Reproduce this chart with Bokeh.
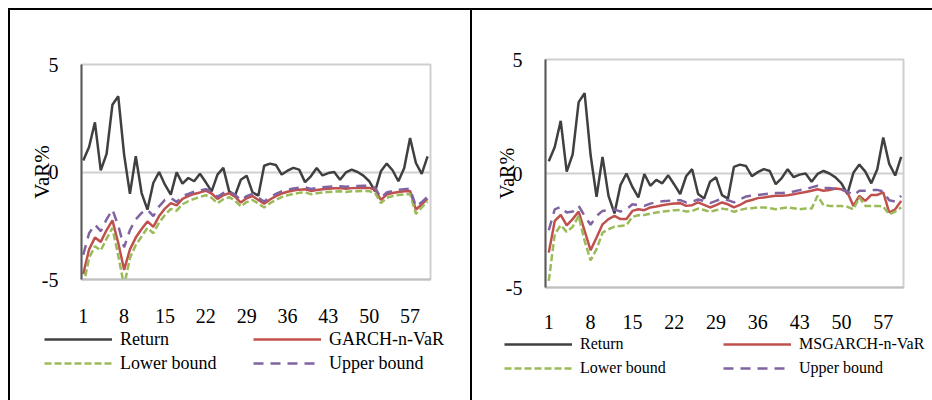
from bokeh.plotting import figure
from bokeh.layouts import row, column
from bokeh.models import (Range1d, FixedTicker, Legend, LegendItem, Div, Spacer)
from bokeh.embed import file_html
from bokeh.resources import INLINE

# observation index 1..60
days = list(range(1, 61))
x_ticks = [1, 8, 15, 22, 29, 36, 43, 50, 57]
y_ticks = [-5, 0, 5]
y_tick_labels = {-5: "-5", 0: "0", 5: "5"}

returns = [0.54, 1.16, 2.31, 0.08, 0.84, 3.13, 3.52, 0.81, -1.02, 0.73,
           -0.98, -1.75, -0.51, 0.0, -0.59, -1.05, -0.02, -0.54, -0.28, -0.43,
           -0.08, -0.48, -0.90, -0.12, 0.19, -0.90, -1.10, -0.36, -0.17, -0.95,
           -1.10, 0.29, 0.39, 0.33, -0.12, 0.06, 0.19, 0.11, -0.47, -0.20,
           0.19, -0.16, -0.05, 0.0, -0.36, -0.02, 0.11, 0.0, -0.17, -0.43,
           -0.90, 0.03, 0.39, 0.08, -0.43, 0.19, 1.58, 0.42, -0.09, 0.73]

# GARCH model with normal innovations
garch_var = [-4.75, -3.60, -3.05, -3.25, -2.70, -2.25, -3.30, -4.55, -3.60, -3.05,
             -2.65, -2.30, -2.55, -2.05, -1.70, -1.45, -1.55, -1.25, -1.12, -1.02,
             -0.95, -0.87, -1.00, -1.25, -1.08, -0.98, -1.15, -1.42, -1.22, -1.12,
             -1.30, -1.47, -1.28, -1.12, -1.00, -0.92, -0.86, -0.82, -0.80, -0.88,
             -0.84, -0.80, -0.78, -0.76, -0.75, -0.78, -0.75, -0.74, -0.73, -0.74,
             -0.82, -1.30, -1.05, -0.98, -0.93, -0.90, -0.88, -1.75, -1.50, -1.25]
garch_lower = [-5.30, -4.00, -3.45, -3.65, -3.10, -2.60, -3.90, -5.30, -4.00, -3.40,
               -3.00, -2.60, -2.85, -2.35, -2.00, -1.72, -1.80, -1.50, -1.36, -1.25,
               -1.16, -1.08, -1.20, -1.45, -1.27, -1.17, -1.33, -1.60, -1.40, -1.30,
               -1.47, -1.65, -1.45, -1.30, -1.17, -1.08, -1.02, -0.97, -0.95, -1.03,
               -0.99, -0.95, -0.93, -0.91, -0.90, -0.93, -0.90, -0.89, -0.88, -0.89,
               -0.97, -1.45, -1.20, -1.12, -1.07, -1.04, -1.02, -1.95, -1.65, -1.38]
garch_upper = [-3.85, -2.85, -2.45, -2.75, -2.20, -1.75, -2.50, -3.50, -2.70, -2.20,
               -1.90, -1.75, -2.05, -1.60, -1.30, -1.20, -1.40, -1.12, -1.02, -0.92,
               -0.86, -0.80, -0.92, -1.15, -0.98, -0.90, -1.05, -1.32, -1.12, -1.02,
               -1.20, -1.37, -1.18, -1.02, -0.90, -0.83, -0.77, -0.73, -0.71, -0.79,
               -0.75, -0.71, -0.69, -0.67, -0.66, -0.69, -0.66, -0.65, -0.64, -0.65,
               -0.73, -1.20, -0.95, -0.88, -0.83, -0.80, -0.78, -1.60, -1.40, -1.15]

# Markov-switching GARCH with normal innovations
msgarch_var = [-3.47, -2.08, -1.82, -2.27, -2.00, -1.67, -2.52, -3.37, -2.81, -2.23,
               -2.00, -1.86, -2.00, -2.00, -1.64, -1.57, -1.61, -1.49, -1.45, -1.39,
               -1.35, -1.32, -1.30, -1.42, -1.39, -1.27, -1.38, -1.49, -1.39, -1.27,
               -1.35, -1.49, -1.38, -1.23, -1.16, -1.08, -1.05, -1.01, -0.98, -0.98,
               -0.95, -0.91, -0.86, -0.81, -0.76, -0.69, -0.76, -0.72, -0.66, -0.69,
               -0.83, -1.42, -0.98, -1.20, -0.94, -0.94, -0.83, -1.71, -1.57, -1.20]
msgarch_lower = [-4.71, -2.66, -2.27, -2.56, -2.34, -1.86, -2.96, -3.81, -3.32, -2.59,
                 -2.45, -2.33, -2.30, -2.27, -1.90, -1.83, -1.82, -1.76, -1.71, -1.67,
                 -1.64, -1.61, -1.60, -1.67, -1.64, -1.54, -1.60, -1.68, -1.61, -1.54,
                 -1.58, -1.68, -1.60, -1.54, -1.52, -1.49, -1.49, -1.52, -1.57, -1.52,
                 -1.49, -1.52, -1.57, -1.54, -1.54, -0.98, -1.39, -1.42, -1.42, -1.43,
                 -1.46, -1.57, -1.05, -1.42, -1.42, -1.42, -1.45, -1.79, -1.67, -1.49]
msgarch_upper = [-2.49, -1.57, -1.46, -1.71, -1.67, -1.42, -1.86, -2.25, -1.86, -1.64,
                 -1.60, -1.57, -1.67, -1.57, -1.35, -1.39, -1.42, -1.32, -1.26, -1.22,
                 -1.20, -1.17, -1.17, -1.27, -1.24, -1.14, -1.20, -1.30, -1.20, -1.11,
                 -1.17, -1.27, -1.13, -1.01, -0.97, -0.94, -0.91, -0.88, -0.86, -0.85,
                 -0.83, -0.79, -0.73, -0.69, -0.61, -0.54, -0.64, -0.64, -0.67, -0.70,
                 -0.79, -0.95, -0.76, -0.76, -0.72, -0.72, -0.79, -1.17, -1.23, -0.98]

FONT = "Liberation Serif"
C_RET = "#404040"
C_VAR = "#c0504d"
C_LOW = "#9bbb59"
C_UP = "#8064a2"

STYLES = [dict(line_color=C_RET, line_width=2.5),
          dict(line_color=C_VAR, line_width=2.5),
          dict(line_color=C_LOW, line_width=2.5, line_dash="7 3"),
          dict(line_color=C_UP, line_width=2.5, line_dash="10 7")]


def var_chart(var, lower, upper, x_range, height, borders, x_standoff, label_font):
    left, right, top, bottom = borders
    p = figure(width=460, height=height, x_range=x_range, y_range=Range1d(-5, 5),
               output_backend="svg", toolbar_location=None,
               min_border_left=left, min_border_right=right,
               min_border_top=top, min_border_bottom=bottom,
               background_fill_color="white", border_fill_color="white")
    p.outline_line_color = "#d0d0d0"
    p.outline_line_width = 2
    p.xgrid.visible = False
    p.ygrid.ticker = FixedTicker(ticks=[0])
    p.ygrid.grid_line_color = "#d0d0d0"
    p.ygrid.grid_line_width = 2

    p.xaxis.ticker = FixedTicker(ticks=x_ticks)
    p.xaxis.axis_line_color = "#bfbfbf"
    p.xaxis.axis_line_width = 2
    p.xaxis.major_tick_line_color = None
    p.xaxis.minor_tick_line_color = None
    p.xaxis.major_tick_out = 0
    p.xaxis.major_label_standoff = x_standoff
    p.xaxis.major_label_text_font = FONT
    p.xaxis.major_label_text_font_size = "20px"
    p.xaxis.major_label_text_color = "black"

    p.yaxis.ticker = FixedTicker(ticks=y_ticks)
    p.yaxis.major_label_overrides = y_tick_labels
    p.yaxis.axis_line_color = "#595959"
    p.yaxis.axis_line_width = 2
    p.yaxis.major_tick_line_color = None
    p.yaxis.minor_tick_line_color = None
    p.yaxis.major_tick_out = 0
    p.yaxis.major_label_standoff = 23
    p.yaxis.major_label_text_font = FONT
    p.yaxis.major_label_text_font_size = "20px"
    p.yaxis.major_label_text_color = "black"
    p.yaxis.axis_label = "VaR%"
    p.yaxis.axis_label_text_font = FONT
    p.yaxis.axis_label_text_font_size = label_font
    p.yaxis.axis_label_text_font_style = "normal"
    p.yaxis.axis_label_text_color = "black"
    p.yaxis.axis_label_standoff = -15

    for ys, st in zip([returns, var, lower, upper], STYLES):
        p.line(days, ys, **st)
    return p


def key_panel(model_name, height, pos, font, row_height, label_width):
    # series key drawn under the chart; its sample lines sit outside the visible range
    k = figure(width=460, height=height, x_range=Range1d(0, 1), y_range=Range1d(0, 1),
               output_backend="svg", toolbar_location=None, min_border=0,
               outline_line_color=None, border_fill_color="white")
    k.axis.visible = False
    k.grid.visible = False
    names = ["Return", model_name, "Lower bound", "Upper bound"]
    items = []
    for name, st in zip(names, STYLES):
        r = k.line([5, 6], [5, 6], **st)
        items.append(LegendItem(label=name, renderers=[r]))
    legend = Legend(items=items, location=pos, orientation="horizontal", ncols=2,
                    glyph_width=68, glyph_height=row_height, label_height=row_height,
                    label_width=label_width, label_standoff=8, spacing=24 - row_height,
                    padding=0, margin=0, border_line_color=None,
                    background_fill_alpha=0,
                    label_text_font=FONT, label_text_font_size=font,
                    label_text_color="black")
    k.add_layout(legend, "center")
    return k


left_chart = var_chart(garch_var, garch_lower, garch_upper, Range1d(0.7, 60.5),
                       317, (71, 40, 54, 48), 29, "21px")
left_key = key_panel("GARCH-n-VaR", 73, (34, 25), "18px", 24, 133)

right_chart = var_chart(msgarch_var, msgarch_lower, msgarch_upper, Range1d(0.45, 60.39),
                        322, (73, 29, 49, 45), 27, "20px")
right_key = key_panel("MSGARCH-n-VaR", 68, (32, 20), "16px", 24, 143)


def rule(w, h):
    return Div(text="", width=w, height=h, margin=0,
               styles={"background-color": "black"})


root = column(
    Spacer(width=932, height=8),
    row(Spacer(width=8, height=2), rule(924, 2)),
    row(Spacer(width=8, height=390), rule(2, 390),
        column(left_chart, row(left_key)), rule(2, 390),
        column(right_chart, row(right_key))),
)

open("out.html", "w").write(file_html(root, INLINE))
